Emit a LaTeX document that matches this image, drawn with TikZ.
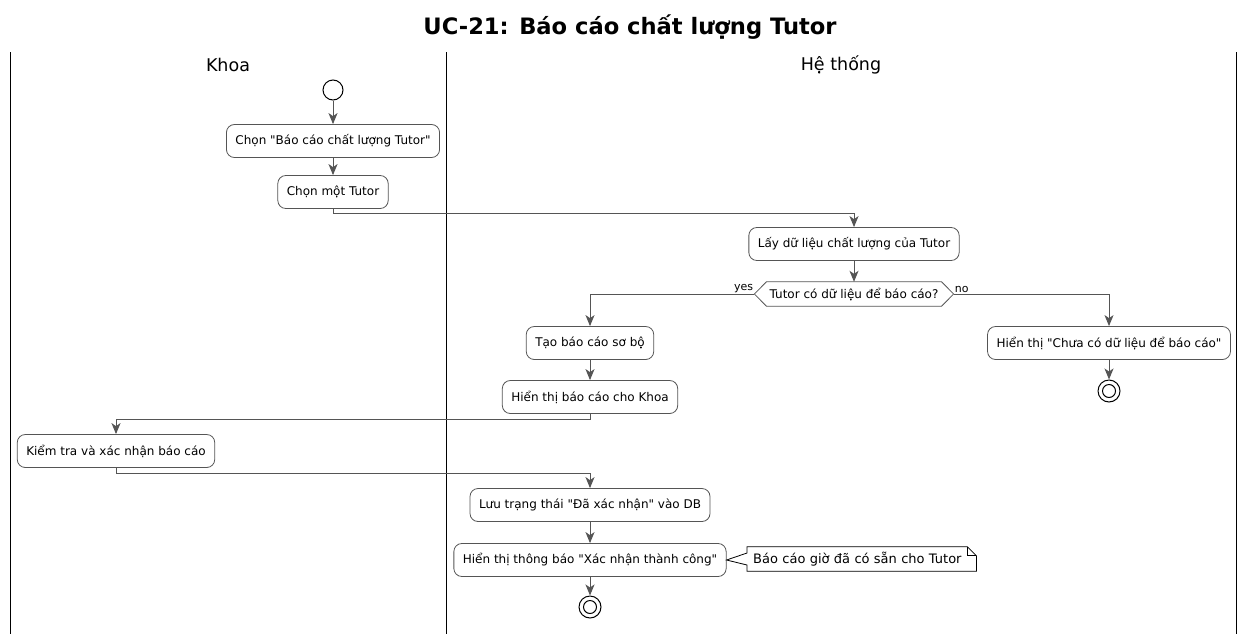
\documentclass[tikz,border=0pt]{standalone}
\usepackage{fontspec}
\setmainfont[Ligatures=TeXOff]{DejaVu Sans}
\usetikzlibrary{arrows.meta,calc}
\definecolor{bc}{HTML}{555555}
\definecolor{ac}{HTML}{555555}
\begin{document}
\begin{tikzpicture}[x=1pt,y=-1pt,
  font=\fontsize{12}{14}\selectfont,
  act/.style={draw=bc, fill=white, rounded corners=8pt, line width=0.8pt, inner xsep=9pt, minimum height=33pt},
  flow/.style={draw=ac, line width=1pt, -{Stealth[length=11pt,width=9pt,inset=3pt]}},
  lane/.style={draw=black, line width=1pt},
  lbl/.style={font=\fontsize{11}{13}\selectfont, inner sep=1pt},
  notetxt/.style={anchor=west, inner xsep=6pt, inner ysep=0pt, minimum height=24pt, text width=217pt, align=left, font=\fontsize{13}{15}\selectfont},
  startc/.style={circle, draw=black, fill=white, line width=1pt, minimum size=20pt, inner sep=0pt},
  endo/.style={circle, draw=black, fill=white, line width=1pt, minimum size=22pt, inner sep=0pt},
  endi/.style={circle, draw=black, line width=1pt, minimum size=13pt, inner sep=0pt}]
\useasboundingbox (0,0) rectangle (1249,640);
% title
\node[font=\bfseries\fontsize{22.6}{26}\selectfont] (title) at (630,27) {UC-21: Báo cáo chất lượng Tutor};
% lanes
\draw[lane] (10,52) -- (10,634);
\draw[lane] (446,52) -- (446,634);
\draw[lane] (1236,52) -- (1236,634);
\node[font=\fontsize{17.5}{20}\selectfont] (h1) at (228,65) {Khoa};
\node[font=\fontsize{17.5}{20}\selectfont] (h2) at (841,65) {Hệ thống};
% nodes
\node[startc] (st) at (333,90) {};
\node[act] (a1) at (333,141) {Chọn "Báo cáo chất lượng Tutor"};
\node[act] (a2) at (333,192) {Chọn một Tutor};
\node[act] (a3) at (854,244) {Lấy dữ liệu chất lượng của Tutor};
\node[inner xsep=3pt, inner ysep=0pt, minimum height=24pt] (d) at (854,294) {Tutor có dữ liệu để báo cáo?};
\draw[draw=bc, line width=0.8pt, fill=white] (d.north west) -- (d.north east) -- ($(d.east)+(12,0)$) -- (d.south east) -- (d.south west) -- ($(d.west)+(-12,0)$) -- cycle;
\node[inner xsep=3pt, inner ysep=0pt, minimum height=24pt] (dt) at (d) {Tutor có dữ liệu để báo cáo?};
\coordinate (dl) at ($(d.west)+(-12,0)$);
\coordinate (dr) at ($(d.east)+(12,0)$);
\node[act] (a4) at (590,343) {Tạo báo cáo sơ bộ};
\node[act] (a5) at (590,397) {Hiển thị báo cáo cho Khoa};
\node[act] (n1) at (1109,343) {Hiển thị "Chưa có dữ liệu để báo cáo"};
\node[endo] (e1) at (1109,391) {};
\node[endi] (e1i) at (e1) {};
\node[act] (a6) at (116,451) {Kiểm tra và xác nhận báo cáo};
\node[act] (a7) at (590,505) {Lưu trạng thái "Đã xác nhận" vào DB};
\node[act] (a8) at (590,560) {Hiển thị thông báo "Xác nhận thành công"};
\node[endo] (e2) at (590,607) {};
\node[endi] (e2i) at (e2) {};
% note
\node[notetxt] (nt) at (747,559) {Báo cáo giờ đã có sẵn cho Tutor};
\draw[draw=black, line width=0.8pt, fill=white] (nt.north west) -- ($(nt.north east)+(-9,0)$) -- ($(nt.north east)+(0,9)$) -- (nt.south east) -- (nt.south west) -- ($(nt.west)+(0,6)$) -- (a8.east) -- ($(nt.west)+(0,-6)$) -- cycle;
\draw[draw=black, line width=0.8pt] ($(nt.north east)+(-9,0)$) -- ($(nt.north east)+(-9,9)$) -- ($(nt.north east)+(0,9)$);
\node[notetxt] (ntt) at (747,559) {Báo cáo giờ đã có sẵn cho Tutor};
% flows
\draw[flow] (st) -- (a1);
\draw[flow] (a1) -- (a2);
\draw[flow] (a2.south) -- ++(0,5) -| (a3.north);
\draw[flow] (a3) -- (d.north);
\draw[flow] (dl) -| (a4.north);
\draw[flow] (dr) -| (n1.north);
\node[lbl, anchor=south east] (yes) at (dl) {yes};
\node[lbl, anchor=south west] (no) at (dr) {no};
\draw[flow] (a4) -- (a5);
\draw[flow] (n1) -- (e1);
\draw[flow] (a5.south) -- ++(0,6) -| (a6.north);
\draw[flow] (a6.south) -- ++(0,6) -| (a7.north);
\draw[flow] (a7) -- (a8);
\draw[flow] (a8) -- (e2);
\end{tikzpicture}
\end{document}
